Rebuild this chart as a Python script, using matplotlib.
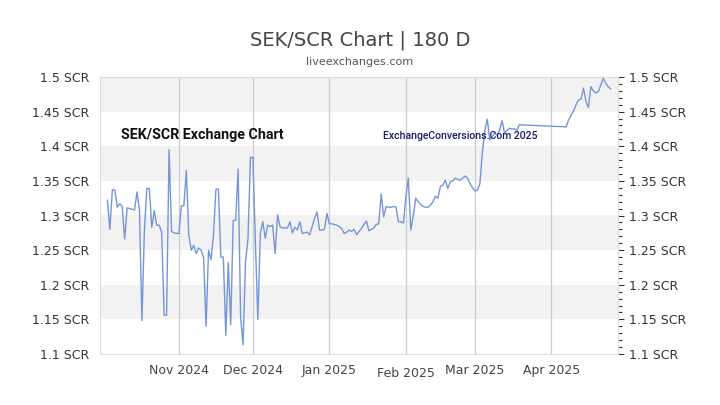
import matplotlib
matplotlib.use("Agg")
import matplotlib.pyplot as plt
import numpy as np
import pandas as pd
from matplotlib.ticker import MultipleLocator, FuncFormatter

title = "SEK/SCR Chart | 180 D"
subtitle = "liveexchanges.com"
watermark1 = "SEK/SCR Exchange Chart"
watermark2 = "ExchangeConversions.Com 2025"

dates = [
    "2024-10-03", "2024-10-04", "2024-10-05", "2024-10-06", "2024-10-07", "2024-10-08",
    "2024-10-09", "2024-10-10", "2024-10-11", "2024-10-12", "2024-10-13", "2024-10-14",
    "2024-10-15", "2024-10-16", "2024-10-17", "2024-10-18", "2024-10-19", "2024-10-20",
    "2024-10-21", "2024-10-22", "2024-10-23", "2024-10-24", "2024-10-25", "2024-10-26",
    "2024-10-27", "2024-10-28", "2024-10-29", "2024-10-30", "2024-10-31", "2024-11-01",
    "2024-11-02", "2024-11-03", "2024-11-04", "2024-11-05", "2024-11-06", "2024-11-07",
    "2024-11-08", "2024-11-09", "2024-11-10", "2024-11-11", "2024-11-12", "2024-11-13",
    "2024-11-14", "2024-11-15", "2024-11-16", "2024-11-17", "2024-11-18", "2024-11-19",
    "2024-11-20", "2024-11-21", "2024-11-22", "2024-11-23", "2024-11-24", "2024-11-25",
    "2024-11-26", "2024-11-27", "2024-11-28", "2024-11-29", "2024-11-30", "2024-12-01",
    "2024-12-02", "2024-12-03", "2024-12-04", "2024-12-05", "2024-12-06", "2024-12-07",
    "2024-12-08", "2024-12-09", "2024-12-10", "2024-12-11", "2024-12-12", "2024-12-13",
    "2024-12-14", "2024-12-15", "2024-12-16", "2024-12-17", "2024-12-18", "2024-12-19",
    "2024-12-20", "2024-12-21", "2024-12-22", "2024-12-23", "2024-12-24", "2024-12-25",
    "2024-12-26", "2024-12-27", "2024-12-28", "2024-12-29", "2024-12-30", "2024-12-31",
    "2025-01-01", "2025-01-02", "2025-01-03", "2025-01-04", "2025-01-05", "2025-01-06",
    "2025-01-07", "2025-01-08", "2025-01-09", "2025-01-10", "2025-01-11", "2025-01-12",
    "2025-01-13", "2025-01-14", "2025-01-15", "2025-01-16", "2025-01-17", "2025-01-18",
    "2025-01-19", "2025-01-20", "2025-01-21", "2025-01-22", "2025-01-23", "2025-01-24",
    "2025-01-25", "2025-01-26", "2025-01-27", "2025-01-28", "2025-01-29", "2025-01-30",
    "2025-01-31", "2025-02-01", "2025-02-02", "2025-02-03", "2025-02-04", "2025-02-05",
    "2025-02-06", "2025-02-07", "2025-02-08", "2025-02-09", "2025-02-10", "2025-02-11",
    "2025-02-12", "2025-02-13", "2025-02-14", "2025-02-15", "2025-02-16", "2025-02-17",
    "2025-02-18", "2025-02-19", "2025-02-20", "2025-02-21", "2025-02-22", "2025-02-23",
    "2025-02-24", "2025-02-25", "2025-02-26", "2025-02-27", "2025-02-28", "2025-03-01",
    "2025-03-02", "2025-03-03", "2025-03-04", "2025-03-05", "2025-03-06", "2025-03-07",
    "2025-03-08", "2025-03-09", "2025-03-10", "2025-03-11", "2025-03-12", "2025-03-13",
    "2025-03-14", "2025-03-15", "2025-03-16", "2025-03-17", "2025-03-18", "2025-03-19",
    "2025-04-07", "2025-04-08", "2025-04-09", "2025-04-10", "2025-04-11", "2025-04-12",
    "2025-04-13", "2025-04-14", "2025-04-15", "2025-04-16", "2025-04-17", "2025-04-18",
    "2025-04-19", "2025-04-20", "2025-04-21", "2025-04-22", "2025-04-23", "2025-04-24",
    "2025-04-25",
]

rates = [
    1.322, 1.280, 1.337, 1.337, 1.312, 1.317,
    1.313, 1.266, 1.311, 1.310, 1.309, 1.308,
    1.334, 1.308, 1.148, 1.279, 1.339, 1.339,
    1.283, 1.307, 1.286, 1.286, 1.276, 1.156,
    1.156, 1.395, 1.277, 1.275, 1.274, 1.274,
    1.314, 1.314, 1.365, 1.272, 1.250, 1.257,
    1.245, 1.253, 1.250, 1.239, 1.140, 1.250,
    1.236, 1.272, 1.338, 1.338, 1.240, 1.240,
    1.127, 1.232, 1.142, 1.293, 1.293, 1.367,
    1.154, 1.113, 1.233, 1.267, 1.384, 1.384,
    1.260, 1.150, 1.274, 1.291, 1.267, 1.286,
    1.284, 1.286, 1.245, 1.301, 1.284, 1.282,
    1.282, 1.282, 1.291, 1.275, 1.283, 1.279,
    1.291, 1.274, 1.275, 1.276, 1.272, 1.284,
    1.296, 1.305, 1.279, 1.279, 1.280, 1.303,
    1.288, 1.288, 1.287, 1.286, 1.284, 1.281,
    1.274, 1.276, 1.279, 1.277, 1.280, 1.272,
    1.277, 1.281, 1.287, 1.292, 1.278, 1.280,
    1.282, 1.287, 1.288, 1.331, 1.298, 1.313,
    1.312, 1.312, 1.313, 1.312, 1.291, 1.291,
    1.289, 1.327, 1.354, 1.279, 1.300, 1.325,
    1.320, 1.316, 1.313, 1.312, 1.312, 1.315,
    1.320, 1.328, 1.325, 1.342, 1.344, 1.351,
    1.339, 1.349, 1.350, 1.354, 1.352, 1.351,
    1.354, 1.357, 1.354, 1.346, 1.340, 1.336,
    1.336, 1.346, 1.390, 1.423, 1.439, 1.409,
    1.414, 1.419, 1.416, 1.423, 1.437, 1.419,
    1.423, 1.426, 1.425, 1.425, 1.423, 1.431,
    1.428, 1.438, 1.445, 1.451, 1.460, 1.467,
    1.468, 1.484, 1.465, 1.456, 1.486, 1.480,
    1.477, 1.479, 1.488, 1.498, 1.491, 1.486,
    1.483,
]

month_ticks = ["2024-11-01", "2024-12-01", "2025-01-01", "2025-02-01", "2025-03-01", "2025-04-01"]
month_labels = ["Nov 2024", "Dec 2024", "Jan 2025", "Feb 2025", "Mar 2025", "Apr 2025"]
y_min, y_max, y_step = 1.1, 1.5, 0.05
x_start, x_end = "2024-09-30", "2025-04-28"

x = pd.to_datetime(dates)

fig = plt.figure(figsize=(7.2, 4.05), dpi=100)
ax = fig.add_axes([100 / 720, 1 - 354 / 405, 518 / 720, 277 / 405])

# alternating horizontal bands
levels = np.arange(y_min, y_max + 1e-9, y_step)
for i in range(len(levels) - 1):
    if i % 2 == 1:
        ax.axhspan(levels[i], levels[i + 1], color="#f2f2f2", lw=0, zorder=0)

# vertical month gridlines
for t in pd.to_datetime(month_ticks):
    ax.axvline(t, color="#cccccc", lw=0.9, zorder=1)

ax.plot(x, rates, color="#7496d9", lw=1.0, zorder=3)

ax.set_xlim(pd.Timestamp(x_start), pd.Timestamp(x_end))
ax.set_ylim(y_min, y_max)

ax.set_xticks(pd.to_datetime(month_ticks))
ax.set_xticklabels(month_labels)
ax.tick_params(axis="x", length=0, pad=7, labelsize=9, labelcolor="#444444")
for lbl in ax.get_xticklabels():
    if lbl.get_text() == "Feb 2025":
        lbl.set_y(-0.012)

ax.yaxis.set_major_locator(MultipleLocator(y_step))
ax.yaxis.set_minor_locator(MultipleLocator(0.01))
ax.yaxis.set_major_formatter(FuncFormatter(lambda v, p: f"{v:g} SCR"))
ax.tick_params(axis="y", which="both", left=False, right=True, labelleft=True,
               labelright=True, direction="out", color="#333333")
ax.tick_params(axis="y", which="major", length=4, width=0.8, labelsize=9,
               labelcolor="#333333", pad=4)
ax.tick_params(axis="y", which="minor", length=3, width=0.8)

for s in ax.spines.values():
    s.set_color("#dddddd")
    s.set_linewidth(0.8)

fig.text(0.5, 1 - 40 / 405, title, ha="center", va="center", fontsize=14, color="#444444")
fig.text(0.5, 1 - 62 / 405, subtitle, ha="center", va="center", fontsize=8, color="#555555")

ax.text(121 / 720, 1 - 135 / 405, watermark1, transform=fig.transFigure, ha="left", va="center",
        fontsize=10.3, fontweight="bold", color="#111111",
        family=["Roboto", "DejaVu Sans"], zorder=4)
ax.text(383 / 720, 1 - 136 / 405, watermark2, transform=fig.transFigure, ha="left", va="center",
        fontsize=7.6, fontweight="medium", color="#1b1b6e",
        family=["Roboto", "DejaVu Sans"], zorder=4)

fig.savefig("out.png", dpi=100, facecolor="white")
